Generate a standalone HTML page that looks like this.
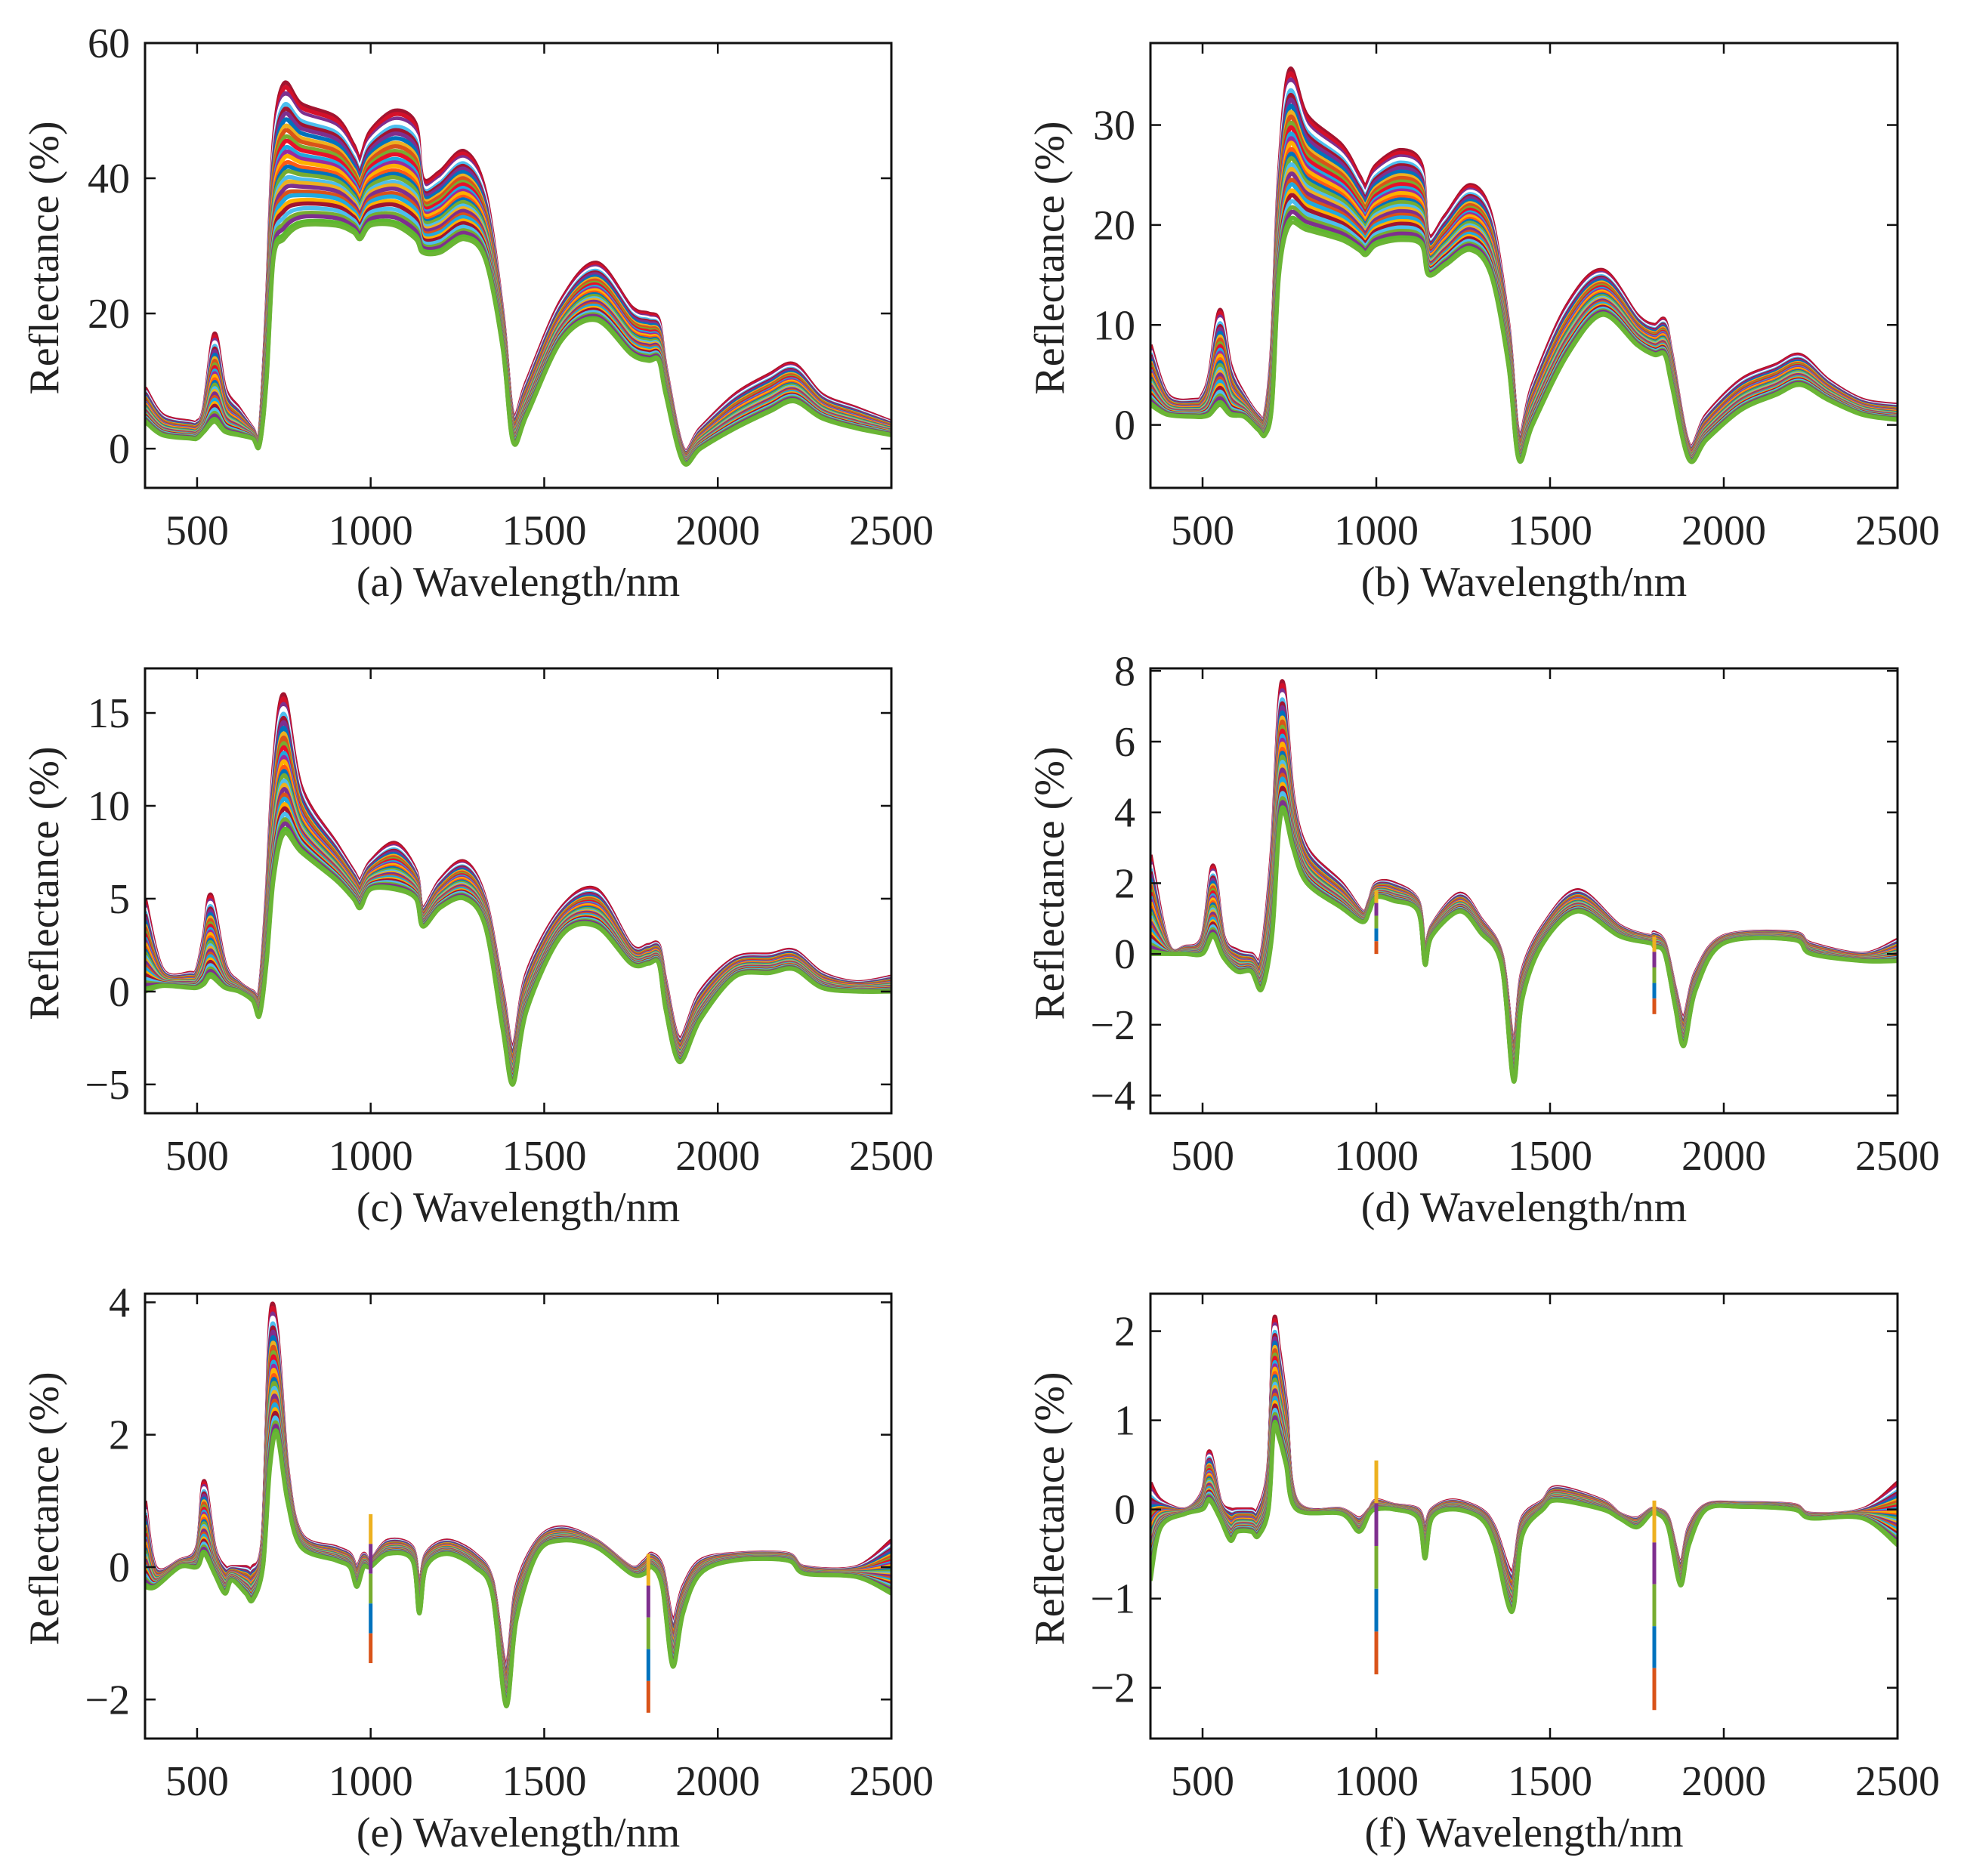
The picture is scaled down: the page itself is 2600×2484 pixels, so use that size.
<!DOCTYPE html>
<html><head><meta charset="utf-8"><style>
html,body{margin:0;padding:0;background:#fff;}
svg{display:block;}
text{font-family:"Liberation Serif",serif;fill:#222;}
</style></head><body>
<svg id="chart" width="2600" height="2484" viewBox="0 0 2600 2484" xmlns="http://www.w3.org/2000/svg"></svg>
<script>
// ---- data ----
const aWl=[350,400,480,500,520,550,580,620,660,680,700,720,750,800,900,950,970,1000,1070,1130,1150,1200,1270,1330,1380,1410,1450,1550,1650,1750,1800,1830,1850,1900,1950,2050,2150,2220,2300,2400,2500];
const aUp=[9,5,4,4,6,17,9,6,3,2,20,45,54,51,49,45,43,47,50,48,40,41,44,38,20,5,10,22,27.5,21,20,19,12,0,3,8,11,12.5,8,6,4];
const aLo=[4,2,1.5,1.5,2.5,4,2.5,2,1.5,0.5,10,28,31,33,33,32,31,33,33,31,29,29,31,28,15,1,5,16,19,14,13,13,8,-2,0,3,5.5,7,4.5,3,2];
const bWl=aWl;
const bUp=[8,3,2.5,3,5,11.5,6,3,1,1,8,25,35.5,31,28,25,24,26,27.5,26,19,21,24,21,10,-1,4,12,15.5,11,10,10.5,7,-2,1,4.5,6,7,4.5,2.5,2];
const bLo=[2,1,0.8,0.8,1,2,1,0.8,-0.5,-1,2,15,20,19.5,18.5,17.5,17,18,18.5,18,15,16,17.5,15,6,-3.5,0,7,11,8,7,7,4,-3.5,-1.5,1.5,3,4,2.5,1,0.5];
const cWl=[350,400,480,500,520,540,580,620,660,680,700,720,750,800,900,950,970,1000,1070,1130,1150,1200,1270,1330,1380,1410,1450,1550,1650,1750,1800,1830,1850,1890,1950,2050,2150,2220,2300,2400,2500];
const cUp=[5,1.2,1,1.2,3,5.2,1.5,0.5,0,0,5,12,16,11,8,6.5,6,7,8,6.5,4.5,6,7,5,0,-3,1,4.5,5.5,2.5,2.5,2.5,0.5,-2.5,0,1.8,2,2.2,1,0.5,0.8];
const cLo=[0,0.3,0.2,0.2,0.4,0.8,0.2,0,-0.5,-1.3,1.5,6,8.5,7.5,6,5,4.5,5.5,5.5,5,3.5,4.5,5,3.5,-2,-5,-1,3,3.5,1.5,1.5,1.5,-1,-3.8,-1.5,0.8,1,1.2,0.2,0,0];
const dWl=[350,400,450,500,530,560,600,640,670,700,720,735,760,800,900,960,980,1000,1050,1120,1140,1160,1240,1300,1360,1395,1420,1480,1580,1700,1790,1800,1830,1860,1885,1920,2000,2200,2250,2400,2500];
const dUp=[2.8,0.3,0.2,0.5,2.5,0.5,0.1,0,0,3,7,7.5,4.5,3,2,1.2,1.5,2,2,1.5,0,0.8,1.7,1,0,-2.5,-0.5,0.8,1.8,0.8,0.5,0.6,0.3,-1,-1.8,-0.5,0.5,0.6,0.3,0,0.4];
const dLo=[0,0,0,0,0.5,-0.1,-0.5,-0.5,-1,0.5,3.5,4,3,2,1.3,0.9,1.2,1.6,1.5,1.2,-0.3,0.5,1.2,0.6,-0.3,-3.6,-1.3,0.3,1.2,0.5,0.3,0.2,0,-1.5,-2.6,-1,0.3,0.4,0,-0.2,-0.2];
const eWl=[350,380,450,500,520,550,580,600,640,660,690,710,730,760,800,900,940,960,980,1000,1050,1120,1140,1160,1220,1300,1350,1390,1420,1480,1550,1650,1750,1790,1810,1840,1870,1900,1950,2050,2200,2250,2400,2500];
const eUp=[1,0,0.1,0.3,1.3,0.3,0,0,0,0,0.5,3.7,3.6,1.5,0.5,0.3,0.2,0,0.2,0.1,0.4,0.3,-0.3,0.2,0.4,0.2,-0.2,-1.5,-0.3,0.4,0.6,0.4,0,0.1,0.2,0,-0.8,-0.3,0.1,0.2,0.2,0,0,0.4];
const eLo=[-0.3,-0.3,0,0,0.2,-0.1,-0.4,-0.2,-0.4,-0.5,0,1.5,2,1,0.3,0.1,0,-0.3,0,0,0.2,0.1,-0.7,0,0.2,0,-0.4,-2.1,-0.8,0.2,0.4,0.3,-0.1,-0.1,0,-0.3,-1.5,-0.7,-0.1,0.1,0.1,-0.1,-0.15,-0.4];
const fWl=[350,380,450,500,520,550,580,600,640,660,690,705,720,740,770,900,950,980,1000,1050,1120,1140,1160,1220,1300,1340,1390,1420,1480,1520,1650,1700,1750,1790,1810,1840,1875,1900,1950,2050,2200,2250,2400,2500];
const fUp=[0.3,0.1,0,0.2,0.65,0.1,0,0,0,0,0.5,2.1,1.8,1.2,0.1,0,-0.1,0,0.1,0.05,0,-0.2,0,0.1,0,-0.2,-0.7,-0.1,0.1,0.25,0.1,-0.05,-0.1,0,0,-0.1,-0.6,-0.2,0.05,0.07,0.05,-0.05,0,0.3];
const fLo=[-0.8,-0.2,-0.05,0,0.1,-0.1,-0.35,-0.25,-0.25,-0.3,0,0.9,0.8,0.5,0,-0.05,-0.25,-0.05,0,0,-0.1,-0.55,-0.1,0,-0.1,-0.4,-1.15,-0.3,0,0.1,0,-0.1,-0.2,-0.05,-0.05,-0.2,-0.85,-0.4,0,0.03,0,-0.1,-0.1,-0.4];
// spikes: wavelength, top, bottom
const dSpikeWl=[1000,1800]; const dSpikeTop=[1.8,0.5]; const dSpikeLow=[0,-1.7];
const eSpikeWl=[1000,1800]; const eSpikeTop=[0.8,0.2]; const eSpikeLow=[-1.45,-2.2];
const fSpikeWl=[1000,1800]; const fSpikeTop=[0.55,0.1]; const fSpikeLow=[-1.85,-2.25];
// per-sample position within envelope (0=lower,1=upper)
const sampleFrac=[1,0.97,0.93,0.9,0.86,0.83,0.8,0.76,0.72,0.69,0.65,0.62,0.58,0.55,0.52,0.48,0.45,0.42,0.38,0.35,0.32,0.28,0.25,0.21,0.18,0.14,0.1,0.07,0.03,0];
const sampleColor=["#A2142F","#d4102a","#7E2F8E","#ffffff","#4DBEEE","#A2142F","#7E2F8E","#0072BD","#EDB120","#D95319","#77AC30","#e8102a","#1fa9e0","#9b2a9e","#ffb000","#ff5a14","#0072BD","#77AC30","#4DBEEE","#EDB120","#7E2F8E","#D95319","#1fa9e0","#ffb000","#A2142F","#4DBEEE","#77AC30","#7E2F8E","#5cb82e","#6ab535"];
const xTicks=[500,1000,1500,2000,2500];

const panels=[
 {id:"a",x0:192,y0:57,w:988,h:589,ymin:-5.8,ymax:60,yt:[0,20,40,60],wl:aWl,up:aUp,lo:aLo,sw:[],st:[],sl:[]},
 {id:"b",x0:1523,y0:57,w:989,h:589,ymin:-6.3,ymax:38.2,yt:[0,10,20,30],wl:bWl,up:bUp,lo:bLo,sw:[],st:[],sl:[]},
 {id:"c",x0:192,y0:885,w:988,h:589,ymin:-6.55,ymax:17.4,yt:[-5,0,5,10,15],wl:cWl,up:cUp,lo:cLo,sw:[],st:[],sl:[]},
 {id:"d",x0:1523,y0:885,w:989,h:589,ymin:-4.5,ymax:8.07,yt:[-4,-2,0,2,4,6,8],wl:dWl,up:dUp,lo:dLo,sw:dSpikeWl,st:dSpikeTop,sl:dSpikeLow},
 {id:"e",x0:192,y0:1713,w:988,h:589,ymin:-2.59,ymax:4.13,yt:[-2,0,2,4],wl:eWl,up:eUp,lo:eLo,sw:eSpikeWl,st:eSpikeTop,sl:eSpikeLow},
 {id:"f",x0:1523,y0:1713,w:989,h:589,ymin:-2.57,ymax:2.42,yt:[-2,-1,0,1,2],wl:fWl,up:fUp,lo:fLo,sw:fSpikeWl,st:fSpikeTop,sl:fSpikeLow}
];
const NS="http://www.w3.org/2000/svg";
const svg=document.getElementById("chart");
function mk(tag,attrs,parent){const e=document.createElementNS(NS,tag);for(const k in attrs)e.setAttribute(k,attrs[k]);(parent||svg).appendChild(e);return e;}
function fmt(v){return v<0?"\u2212"+Math.abs(v):String(v);}
function smooth(pts){
  let d="M"+pts[0][0].toFixed(1)+" "+pts[0][1].toFixed(1);
  for(let i=0;i<pts.length-1;i++){
    const p0=pts[Math.max(0,i-1)],p1=pts[i],p2=pts[i+1],p3=pts[Math.min(pts.length-1,i+2)];
    const t=0.16;
    const c1x=p1[0]+(p2[0]-p0[0])*t,c1y=p1[1]+(p2[1]-p0[1])*t;
    const c2x=p2[0]-(p3[0]-p1[0])*t,c2y=p2[1]-(p3[1]-p1[1])*t;
    d+="C"+c1x.toFixed(1)+" "+c1y.toFixed(1)+" "+c2x.toFixed(1)+" "+c2y.toFixed(1)+" "+p2[0].toFixed(1)+" "+p2[1].toFixed(1);
  }
  return d;
}
panels.forEach(p=>{
  const g=mk("g",{});
  
  
  const X=w=>p.x0+(w-350)/(2500-350)*p.w;
  const Y=v=>p.y0+(p.ymax-v)/(p.ymax-p.ymin)*p.h;
  const clipId="clip"+p.id;
  const cp=mk("clipPath",{id:clipId},g);mk("rect",{x:p.x0,y:p.y0,width:p.w,height:p.h},cp);
  const lines=mk("g",{"clip-path":"url(#"+clipId+")"},g);
  
  
  sampleFrac.forEach((f,i)=>{
    const pts=p.wl.map((w,j)=>[X(w),Y(p.lo[j]+f*(p.up[j]-p.lo[j]))]);
    const pl=mk("path",{d:smooth(pts),fill:"none",stroke:sampleColor[i%sampleColor.length],"stroke-width":5.5,"stroke-linejoin":"round"},lines);
    
    
  });
  p.sw.forEach((w,k)=>{
    const span=p.st[k]-p.sl[k];
    ["#EDB120","#7E2F8E","#77AC30","#0072BD","#D95319"].forEach((c,m)=>{
      const t=p.st[k]-span*m/5,b=p.st[k]-span*(m+1)/5;
      const sp=mk("line",{x1:X(w),x2:X(w),y1:Y(t),y2:Y(b),stroke:c,"stroke-width":5},lines);
      
      
    });
  });
  const fr=mk("rect",{x:p.x0,y:p.y0,width:p.w,height:p.h,fill:"none",stroke:"#111","stroke-width":3},g);
  
  
  xTicks.forEach(t=>{
    const x=X(t);
    mk("line",{x1:x,x2:x,y1:p.y0+p.h,y2:p.y0+p.h-14,stroke:"#111","stroke-width":2.5},g);
    mk("line",{x1:x,x2:x,y1:p.y0,y2:p.y0+14,stroke:"#111","stroke-width":2.5},g);
    const tx=mk("text",{x:x,y:p.y0+p.h+75,"text-anchor":"middle","font-size":56},g);
    tx.textContent=t;
    
    
  });
  p.yt.forEach(t=>{
    const y=Y(t);
    mk("line",{x1:p.x0,x2:p.x0+14,y1:y,y2:y,stroke:"#111","stroke-width":2.5},g);
    mk("line",{x1:p.x0+p.w,x2:p.x0+p.w-14,y1:y,y2:y,stroke:"#111","stroke-width":2.5},g);
    const ty=mk("text",{x:p.x0-20,y:y+19,"text-anchor":"end","font-size":56},g);
    ty.textContent=fmt(t);
    
    
  });
  const xt=mk("text",{x:p.x0+p.w/2,y:p.y0+p.h+143,"text-anchor":"middle","font-size":56},g);
  xt.textContent="("+p.id+") Wavelength/nm";
  
  
  const yx=p.x0-128,yy=p.y0+p.h/2-10;
  const yt=mk("text",{x:yx,y:yy,"text-anchor":"middle","font-size":56,transform:"rotate(-90 "+yx+" "+yy+")","dominant-baseline":"middle"},g);
  yt.textContent="Reflectance (%)";
  
  
});
</script>
</body></html>
